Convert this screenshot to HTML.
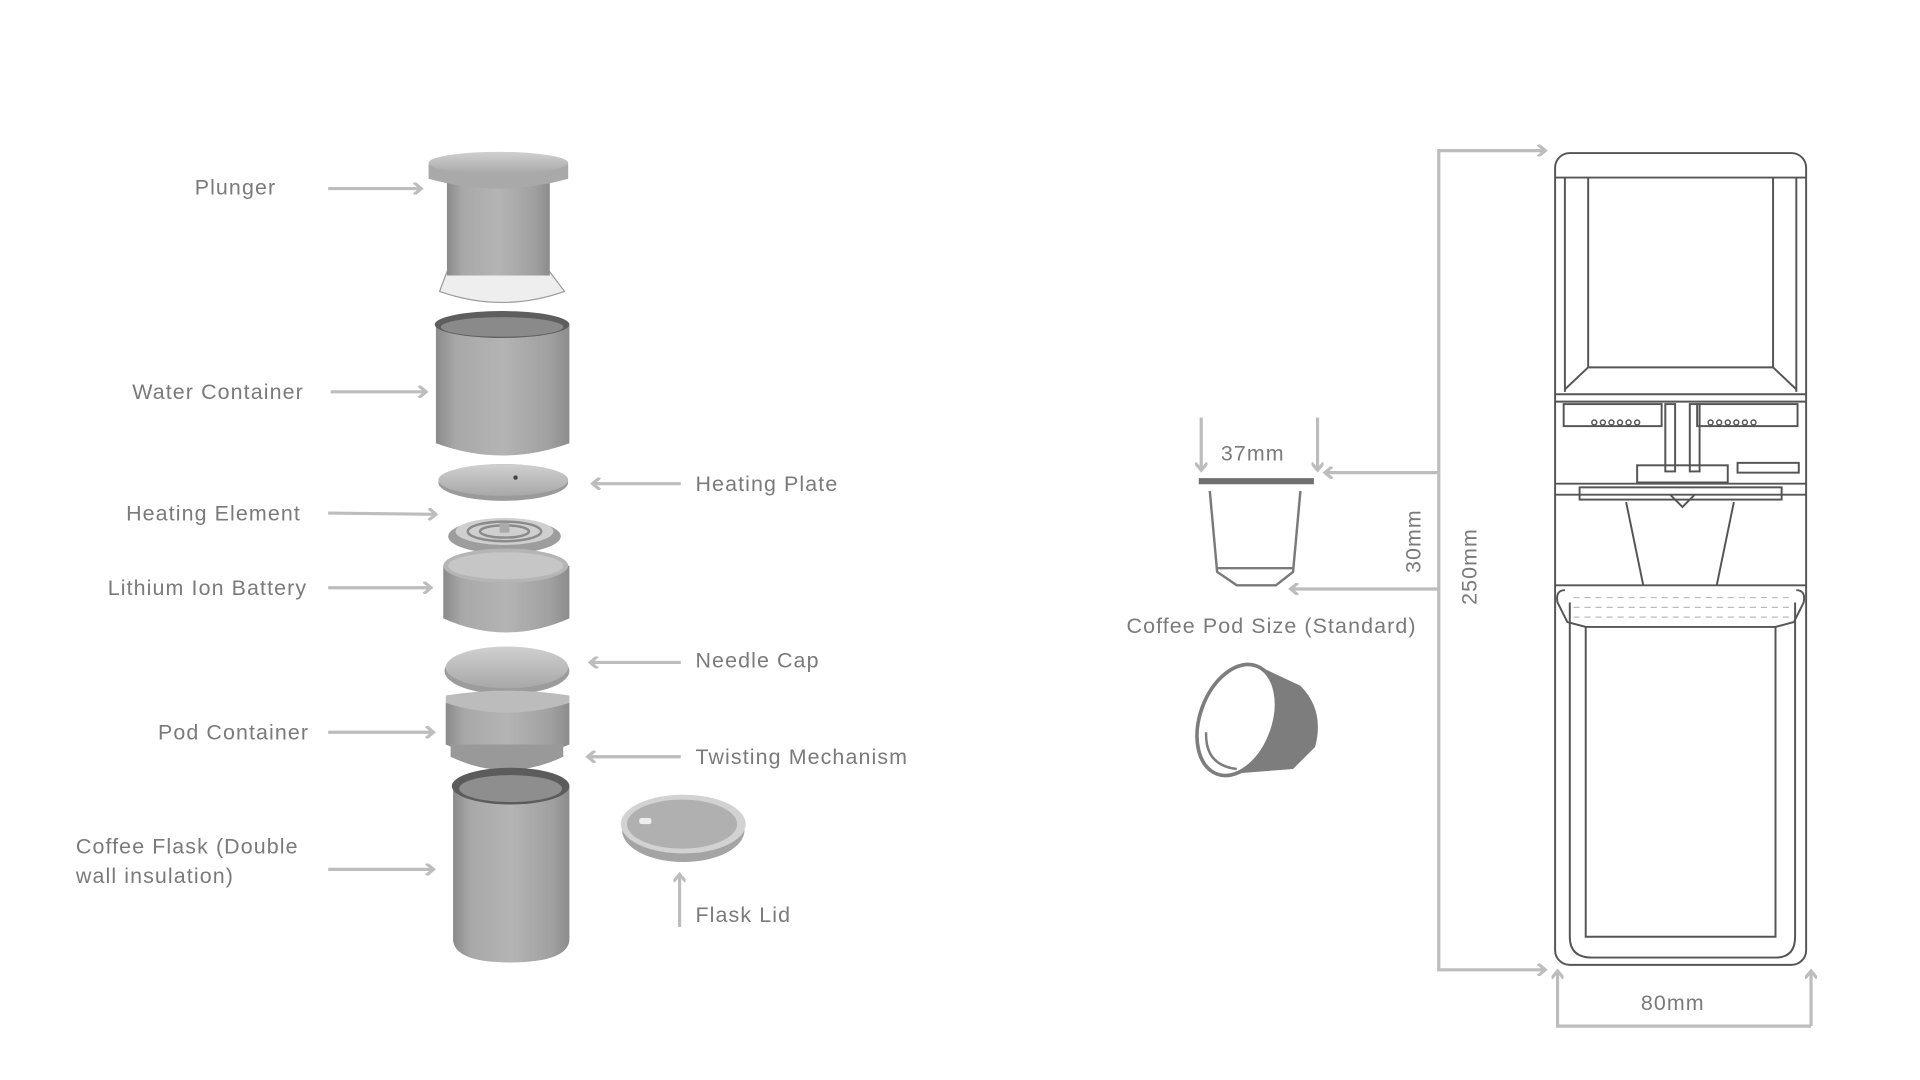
<!DOCTYPE html>
<html><head><meta charset="utf-8"><style>
html,body{margin:0;padding:0;background:#fff;width:1920px;height:1080px;overflow:hidden}
svg{display:block}
text{font-family:"Liberation Sans",sans-serif;fill:#7a7a7a;font-size:17.5px;letter-spacing:0.9px}
</style></head><body>
<svg width="1920" height="1080" viewBox="0 0 1568 882" xmlns="http://www.w3.org/2000/svg">
<defs>
<linearGradient id="cyl" x1="0" x2="1" y1="0" y2="0">
<stop offset="0" stop-color="#8a8a8a"/><stop offset="0.15" stop-color="#a8a8a8"/><stop offset="0.5" stop-color="#b4b4b4"/><stop offset="0.85" stop-color="#a0a0a0"/><stop offset="1" stop-color="#8c8c8c"/></linearGradient>
<linearGradient id="top" x1="0" x2="0" y1="0" y2="1"><stop offset="0" stop-color="#d0d0d0"/><stop offset="1" stop-color="#a8a8a8"/></linearGradient>
<marker id="ah" markerWidth="10" markerHeight="10" refX="7" refY="5" orient="auto" markerUnits="userSpaceOnUse">
<path d="M1,0 L7,5 L1,10" fill="none" stroke="#bdbdbd" stroke-width="2.6"/></marker>
</defs>
<g stroke="#bdbdbd" stroke-width="2.6" fill="none" marker-end="url(#ah)">
<line x1="268" y1="154" x2="344" y2="154"/>
<line x1="270" y1="320" x2="348" y2="320"/>
<line x1="556" y1="395" x2="484" y2="395"/>
<line x1="268" y1="419" x2="356" y2="420"/>
<line x1="268" y1="480" x2="352" y2="480"/>
<line x1="556" y1="541" x2="482" y2="541"/>
<line x1="268" y1="598" x2="354" y2="598"/>
<line x1="556" y1="618" x2="480" y2="618"/>
<line x1="268" y1="710" x2="354" y2="710"/>
<line x1="555" y1="757" x2="555" y2="714"/>
<polyline points="1175,386 1175,123 1262,123"/>
<polyline points="1175,386 1082,386"/>
<polyline points="1175,386 1175,792 1262,792"/>
<polyline points="1175,481 1054,481"/>
<line x1="981" y1="341" x2="981" y2="384"/>
<line x1="1076" y1="341" x2="1076" y2="384"/>
<polyline points="1479,838 1479,793"/>
<polyline points="1479,838 1272,838 1272,793"/>
</g>
<text x="159" y="159">Plunger</text>
<text x="108" y="326">Water Container</text>
<text x="568" y="401">Heating Plate</text>
<text x="103" y="425">Heating Element</text>
<text x="88" y="486">Lithium Ion Battery</text>
<text x="568" y="545">Needle Cap</text>
<text x="129" y="604">Pod Container</text>
<text x="568" y="624">Twisting Mechanism</text>
<text x="62" y="697">Coffee Flask (Double</text>
<text x="62" y="721">wall insulation)</text>
<text x="568" y="753">Flask Lid</text>
<text x="997" y="376">37mm</text>
<text x="920" y="517">Coffee Pod Size (Standard)</text>
<text x="1340" y="825">80mm</text>
<text transform="translate(1160,468) rotate(-90)">30mm</text>
<text transform="translate(1206,494) rotate(-90)">250mm</text>
<!-- plunger -->
<path d="M365,222 L359,238 Q410,256 461,238 L449,222 Z" fill="#eeeeee" stroke="#9a9a9a"/>
<rect x="365" y="145" width="84" height="80" fill="url(#cyl)"/>
<path d="M350,134 L350,146 Q407,162 464,146 L464,134 Z" fill="#a9a9a9"/>
<ellipse cx="407" cy="133" rx="57" ry="9" fill="url(#top)"/>
<!-- water container -->
<path d="M356,265 L356,362 Q410,382 465,362 L465,265 Z" fill="url(#cyl)"/>
<ellipse cx="410" cy="265" rx="55" ry="11" fill="#5e5e5e"/>
<ellipse cx="410" cy="267" rx="50" ry="8" fill="#8a8a8a"/>
<!-- heating plate -->
<ellipse cx="411" cy="394" rx="53" ry="15" fill="#9a9a9a"/>
<ellipse cx="411" cy="392" rx="53" ry="13" fill="url(#top)"/>
<circle cx="421" cy="390" r="1.8" fill="#444"/>
<!-- heating element -->
<ellipse cx="412" cy="438" rx="46" ry="14" fill="#9d9d9d"/>
<ellipse cx="412" cy="434" rx="40" ry="11" fill="#cfcfcf"/>
<ellipse cx="412" cy="434" rx="30" ry="8" fill="none" stroke="#8a8a8a" stroke-width="2"/>
<ellipse cx="412" cy="434" rx="20" ry="5" fill="none" stroke="#8a8a8a" stroke-width="2"/>
<rect x="408" y="427" width="8" height="8" fill="#aaa"/>
<!-- battery -->
<path d="M362,462 L362,505 Q413,528 465,505 L465,462 Z" fill="url(#cyl)"/>
<ellipse cx="413" cy="462" rx="51" ry="14" fill="#b5b5b5"/>
<ellipse cx="413" cy="462" rx="47" ry="11" fill="#c6c6c6"/>
<!-- needle cap -->
<ellipse cx="414" cy="548" rx="51" ry="19" fill="#9c9c9c"/>
<ellipse cx="414" cy="545" rx="50" ry="17" fill="url(#top)"/>
<!-- pod container -->
<path d="M364,574 L364,608 Q414,630 465,608 L465,574 Z" fill="url(#cyl)"/>
<path d="M368,608 L368,618 Q414,640 460,618 L460,608 Z" fill="#999"/>
<path d="M364,574 Q414,590 465,574 L465,568 Q414,560 364,568 Z" fill="#bcbcbc"/>
<!-- flask -->
<path d="M370,642 L370,768 Q372,786 416,786 Q463,786 465,768 L465,642 Z" fill="url(#cyl)"/>
<ellipse cx="417" cy="642" rx="48" ry="15" fill="#5c5c5c"/>
<ellipse cx="417" cy="644" rx="42" ry="11" fill="#8e8e8e"/>
<!-- flask lid -->
<ellipse cx="558" cy="678" rx="50" ry="26" fill="#a4a4a4"/>
<ellipse cx="558" cy="673" rx="51" ry="24" fill="#d2d2d2"/>
<ellipse cx="557" cy="673" rx="45" ry="20" fill="#b0b0b0"/>
<rect x="522" y="668" width="10" height="5" rx="2" fill="#eee"/>
<!-- pod outline -->
<line x1="979" y1="393" x2="1073" y2="393" stroke="#6f6f6f" stroke-width="5"/>
<path d="M988,401 L994,467 L1010,478 L1042,478 L1056,467 L1062,401" fill="none" stroke="#7a7a7a" stroke-width="2"/>
<line x1="993" y1="464" x2="1057" y2="464" stroke="#7a7a7a" stroke-width="2"/>
<!-- pod 3d -->
<path d="M1030,545 L1062,560 Q1082,580 1074,610 L1056,628 L1005,632 Z" fill="#7d7d7d"/>
<ellipse cx="1010" cy="588" rx="30" ry="47" transform="rotate(20 1010 588)" fill="#fff" stroke="#7d7d7d" stroke-width="3"/>
<path d="M985,598 Q984,625 1010,628" fill="none" stroke="#7d7d7d" stroke-width="2"/>
<!-- device cross section -->
<g fill="none" stroke="#555" stroke-width="1.6">
<rect x="1270" y="125" width="205" height="663" rx="12"/>
<line x1="1270" y1="145" x2="1475" y2="145"/>
<line x1="1297" y1="145" x2="1297" y2="300"/><line x1="1448" y1="145" x2="1448" y2="300"/>
<line x1="1297" y1="300" x2="1448" y2="300"/>
<line x1="1297" y1="300" x2="1278" y2="318"/><line x1="1448" y1="300" x2="1467" y2="318"/>
<line x1="1278" y1="145" x2="1278" y2="320"/><line x1="1467" y1="145" x2="1467" y2="320"/>
<line x1="1270" y1="322" x2="1475" y2="322"/><line x1="1270" y1="328" x2="1475" y2="328"/>
<rect x="1277" y="330" width="80" height="18"/><rect x="1386" y="330" width="82" height="18"/>
<rect x="1360" y="330" width="8" height="55"/><rect x="1380" y="330" width="8" height="55"/>
<rect x="1337" y="380" width="74" height="14"/>
<rect x="1419" y="378" width="50" height="8"/>
<line x1="1270" y1="395" x2="1475" y2="395"/><line x1="1270" y1="404" x2="1475" y2="404"/>
<rect x="1290" y="398" width="165" height="10"/>
<path d="M1364,404 L1374,414 L1384,404"/>
<path d="M1328,410 L1342,478 M1416,410 L1402,478"/>
<line x1="1270" y1="478" x2="1475" y2="478"/>
<path d="M1278,482 Q1270,482 1272,492 L1280,508 L1295,512 L1295,765 L1450,765 L1450,512 L1465,508 L1473,492 Q1475,482 1467,482"/>
<path d="M1282,492 L1282,765 Q1282,782 1300,782 L1450,782 Q1466,782 1466,765 L1466,492"/>
<line x1="1295" y1="512" x2="1450" y2="512"/>
</g>
<g stroke="#bbb" stroke-dasharray="5 4" stroke-width="1">
<line x1="1285" y1="488" x2="1462" y2="488"/><line x1="1285" y1="496" x2="1462" y2="496"/><line x1="1285" y1="504" x2="1462" y2="504"/>
</g>
<g fill="none" stroke="#555" stroke-width="1.2">
<circle cx="1302" cy="345" r="2"/><circle cx="1309" cy="345" r="2"/><circle cx="1316" cy="345" r="2"/><circle cx="1323" cy="345" r="2"/><circle cx="1330" cy="345" r="2"/><circle cx="1337" cy="345" r="2"/>
<circle cx="1397" cy="345" r="2"/><circle cx="1404" cy="345" r="2"/><circle cx="1411" cy="345" r="2"/><circle cx="1418" cy="345" r="2"/><circle cx="1425" cy="345" r="2"/><circle cx="1432" cy="345" r="2"/>
</g>
</svg>
</body></html>
